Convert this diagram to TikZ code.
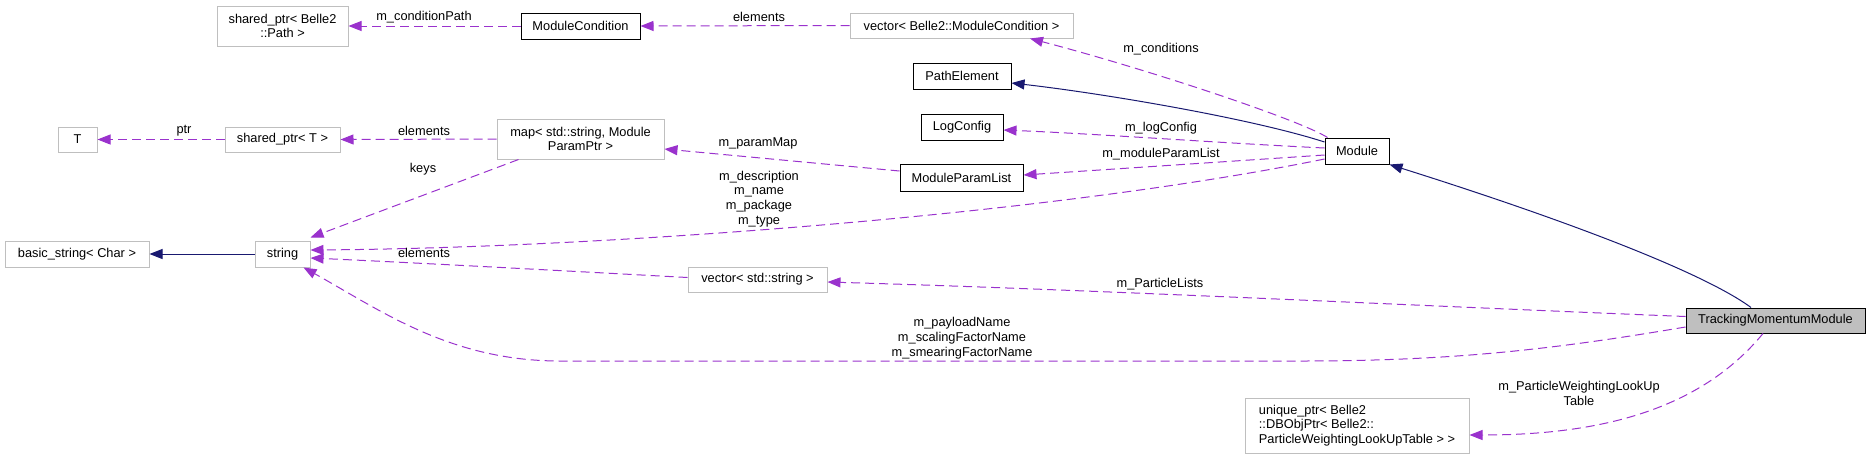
\documentclass[tikz,border=0pt]{standalone}
\usepackage{fontspec}
\setmainfont{Liberation Sans}
\usetikzlibrary{arrows.meta,calc}
\definecolor{depc}{HTML}{9A32CD}
\definecolor{inhc}{HTML}{191970}
\definecolor{gbord}{HTML}{BFBFBF}
\definecolor{tmmfill}{HTML}{BFBFBF}
\begin{document}
\begin{tikzpicture}[x=1pt,y=-1pt,
  base/.style={rectangle, inner sep=0pt, font=\fontsize{12.8}{14.7}\selectfont, line width=1pt, fill=white},
  gbox/.style={base, draw=gbord},
  bbox/.style={base, draw=black},
  depline/.style={draw=depc, line width=1pt, dash pattern=on 9pt off 5pt, -{Triangle[length=13pt,width=10pt,fill=depc]}},
  inhline/.style={draw=inhc, line width=1pt, -{Triangle[length=13pt,width=10pt,fill=inhc]}},
  lbl/.style={font=\fontsize{12.8}{14.7}\selectfont, inner sep=0pt, align=center}
]
\useasboundingbox (0,0) rectangle (1871,459);

% nodes
\node[gbox, minimum width=131pt, minimum height=40pt, align=center] (path) at (282.5,26) {shared\_ptr< Belle2\\::Path >};
\node[bbox, minimum width=119pt, minimum height=26pt] (mc) at (580.5,26) {ModuleCondition};
\node[gbox, minimum width=223pt, minimum height=25pt] (vmc) at (961.5,25.5) {vector< Belle2::ModuleCondition >};
\node[bbox, minimum width=98pt, minimum height=26pt] (pe) at (962,76) {PathElement};
\node[bbox, minimum width=82pt, minimum height=26pt] (lc) at (962,127) {LogConfig};
\node[bbox, minimum width=123pt, minimum height=27pt] (mpl) at (961.5,177.5) {ModuleParamList};
\node[gbox, minimum width=167pt, minimum height=40pt, align=center] (map) at (580.5,139) {map< std::string, Module\\ParamPtr >};
\node[gbox, minimum width=39pt, minimum height=25pt] (T) at (77.5,139.5) {T};
\node[gbox, minimum width=115pt, minimum height=25pt] (spt) at (282.5,139.5) {shared\_ptr< T >};
\node[bbox, minimum width=64pt, minimum height=26pt] (module) at (1357,151) {Module};
\node[gbox, minimum width=144pt, minimum height=26pt] (bs) at (77,254) {basic\_string< Char >};
\node[gbox, minimum width=55pt, minimum height=26pt] (str) at (282.5,254) {string};
\node[gbox, minimum width=139pt, minimum height=25pt] (vs) at (757.5,279.5) {vector< std::string >};
\node[bbox, fill=tmmfill, minimum width=179pt, minimum height=25pt] (tmm) at (1775.5,320.5) {TrackingMomentumModule};
\node[gbox, minimum width=224pt, minimum height=55pt, align=left] (up) at (1357,425.5) {unique\_ptr< Belle2\\::DBObjPtr< Belle2::\\ParticleWeightingLookUpTable > >};

% edges
\draw[depline] (mc.west) -- (path.east);
\node[lbl] (l1) at (424,17) {m\_conditionPath};

\draw[depline] (vmc.west) -- (mc.east);
\node[lbl] (l2) at (759,17) {elements};

\draw[depline] ($(module.north west)+(3,0)$) .. controls (1300,120) and (1150,70) .. ($(vmc.south)+(68.5,0)$);
\node[lbl] (l3) at (1161,49) {m\_conditions};

\draw[inhline] ($(module.west)+(0,-9)$) .. controls (1250,118) and (1100,93) .. ($(pe.east)+(0,7)$);

\draw[depline] ($(module.west)+(0,-3)$) .. controls (1220,143) and (1100,134) .. ($(lc.east)+(0,3)$);
\node[lbl] (l4) at (1161,128) {m\_logConfig};

\draw[depline] ($(module.west)+(0,4)$) .. controls (1220,162) and (1100,170) .. ($(mpl.east)+(0,-2.5)$);
\node[lbl] (l5) at (1161,154) {m\_moduleParamList};

\draw[depline] ($(module.west)+(0,8)$) .. controls (1050,215) and (600,248) .. ($(str.east)+(0,-4)$);
\node[lbl] (l6) at (759,199) {m\_description\\m\_name\\m\_package\\m\_type};

\draw[depline] (map.west) -- (spt.east);
\node[lbl] (l7) at (424,131) {elements};

\draw[depline] (spt.west) -- (T.east);
\node[lbl] (l8) at (184,131) {ptr};

\draw[depline] ($(map.south west)+(22,0)$) -- ($(str.north east)+(0,-3)$);
\node[lbl] (l9) at (423,169) {keys};

\draw[depline] ($(mpl.west)+(0,-6.5)$) -- ($(map.east)+(0,10)$);
\node[lbl] (l10) at (758,143) {m\_paramMap};

\draw[inhline] (str.west) -- (bs.east);

\draw[depline] ($(vs.west)+(0,-2)$) .. controls (550,270) and (400,262) .. ($(str.east)+(0,4)$);
\node[lbl] (l11) at (424,253) {elements};

\draw[depline] ($(tmm.west)+(0,-4)$) .. controls (1400,305) and (1100,290) .. ($(vs.east)+(0,2.5)$);
\node[lbl] (l12) at (1160,284) {m\_ParticleLists};

\draw[depline] ($(tmm.west)+(0,6.5)$) .. controls (1550,350) and (1450,361) .. (1300,361) -- (560,361) .. controls (450,361) and (380,310) .. ($(str.south)+(21,0)$);
\node[lbl] (l13) at (962,338) {m\_payloadName\\m\_scalingFactorName\\m\_smearingFactorName};

\draw[depline] ($(tmm.south)+(-12.5,0)$) .. controls (1700,410) and (1600,435) .. ($(up.east)+(0,9.5)$);
\node[lbl] (l14) at (1579,393.5) {m\_ParticleWeightingLookUp\\Table};

\draw[inhline] ($(tmm.north)+(-24.5,0)$) .. controls (1700,270) and (1550,215) .. (module.south east);
\end{tikzpicture}
\end{document}
